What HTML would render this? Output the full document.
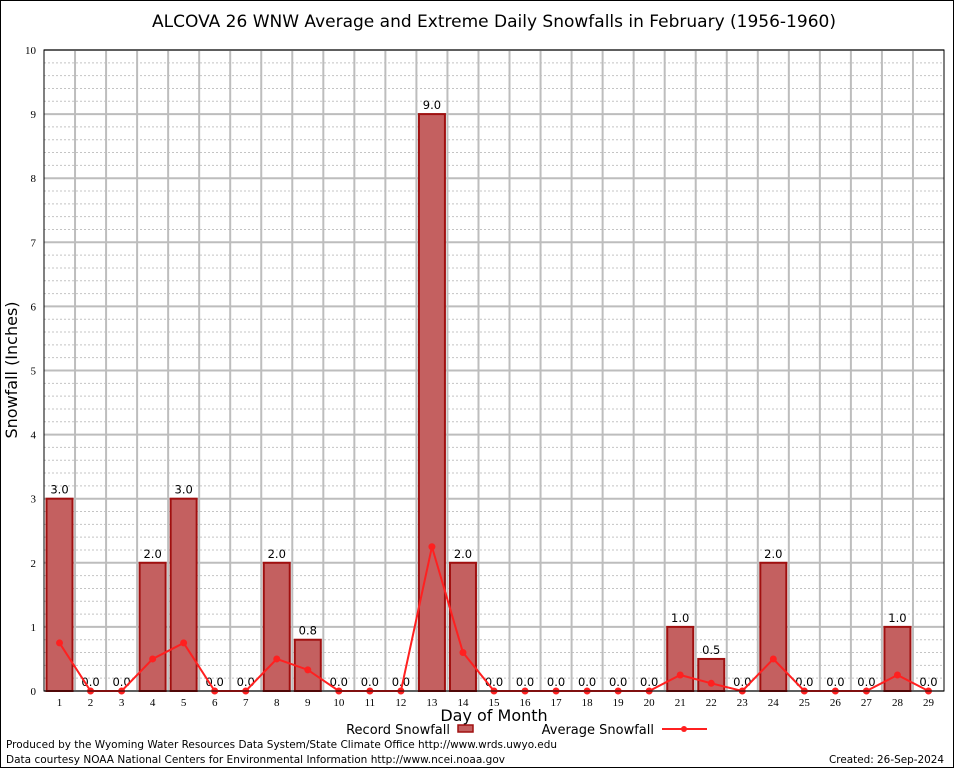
<!DOCTYPE html>
<html><head><meta charset="utf-8">
<style>
html,body{margin:0;padding:0;background:#fff;}
svg{display:block;font-family:"DejaVu Sans","Liberation Sans",sans-serif;}
</style></head>
<body>
<svg id="chart" width="954" height="768" viewBox="0 0 954 768" xmlns="http://www.w3.org/2000/svg">
<rect x="0.5" y="0.5" width="953" height="767" fill="#fff" stroke="#000"/>
<text x="494" y="27" font-size="17" text-anchor="middle">ALCOVA 26 WNW Average and Extreme Daily Snowfalls in February (1956-1960)</text>
<g id="grid"></g>
<g id="bars"></g>
<g id="line"></g>
<g id="axes"></g>
<text x="17" y="370" font-size="16" text-anchor="middle" transform="rotate(-90 17 370)">Snowfall (Inches)</text>
<text x="494" y="721" font-size="16" text-anchor="middle">Day of Month</text>
<g>
<text x="450" y="734" font-size="13" text-anchor="end">Record Snowfall</text>
<rect x="458" y="725" width="15" height="7" fill="#c46060" stroke="#a01010" stroke-width="1.5"/>
<text x="654" y="734" font-size="13" text-anchor="end">Average Snowfall</text>
<line x1="662" y1="729" x2="707" y2="729" stroke="#ff2020" stroke-width="2"/>
<circle cx="684" cy="729" r="3" fill="#ff2020"/>
</g>
<text x="6" y="748" font-size="11" textLength="551" lengthAdjust="spacingAndGlyphs">Produced by the Wyoming Water Resources Data System/State Climate Office http://www.wrds.uwyo.edu</text>
<text x="6" y="763" font-size="11" textLength="499" lengthAdjust="spacingAndGlyphs">Data courtesy NOAA National Centers for Environmental Information http://www.ncei.noaa.gov</text>
<text x="944" y="763" font-size="11" text-anchor="end" textLength="115" lengthAdjust="spacingAndGlyphs">Created: 26-Sep-2024</text>
</svg>
<script>
const days = [1,2,3,4,5,6,7,8,9,10,11,12,13,14,15,16,17,18,19,20,21,22,23,24,25,26,27,28,29];
const recordSnow = [3.0,0,0,2.0,3.0,0,0,2.0,0.8,0,0,0,9.0,2.0,0,0,0,0,0,0,1.0,0.5,0,2.0,0,0,0,1.0,0];
const avgSnow = [0.75,0,0,0.5,0.75,0,0,0.5,0.33,0,0,0,2.25,0.6,0,0,0,0,0,0,0.25,0.12,0,0.5,0,0,0,0.25,0];
const yTicks = [0,1,2,3,4,5,6,7,8,9,10];

const NS="http://www.w3.org/2000/svg";
const L=44,R=944,T=50,B=691,YMAX=10;
const slot=(R-L)/days.length;
const xc=d=>L+(d-0.5)*slot;
const y=v=>B-(v/YMAX)*(B-T);
function mk(tag,attrs,parent){const e=document.createElementNS(NS,tag);for(const k in attrs)e.setAttribute(k,attrs[k]);parent.appendChild(e);return e;}
const grid=document.getElementById('grid'),bars=document.getElementById('bars'),line=document.getElementById('line'),axes=document.getElementById('axes');
for(let v=0;v<YMAX;v+=0.2){if(Math.abs(v-Math.round(v))<1e-6)continue;
 const l=mk('line',{x1:L,x2:R,y1:y(v),y2:y(v),stroke:'#c4c4c4','stroke-width':1,'stroke-dasharray':'2,2'},grid);
 
 }
yTicks.forEach(v=>{const l=mk('line',{x1:L,x2:R,y1:y(v),y2:y(v),stroke:'#bdbdbd','stroke-width':2},grid);
 
 
 const t=mk('text',{x:L-8,y:y(v)+4,'font-size':11,'text-anchor':'end','font-family':'Liberation Serif, serif'},axes);t.textContent=v;
 
 });
for(let i=1;i<days.length;i++){const x=L+i*slot;const l=mk('line',{x1:x,x2:x,y1:T,y2:B,stroke:'#bdbdbd','stroke-width':2},grid);
 
 }
days.forEach((d,i)=>{const v=recordSnow[i];
 if(v>0){const b=mk('rect',{x:xc(d)-13,y:y(v),width:26,height:B-y(v),fill:'#c46060',stroke:'#a01010','stroke-width':2},bars);
  
  }
 const t=mk('text',{x:xc(d),y:y(v)-5,'font-size':11.5,'text-anchor':'middle'},bars);t.textContent=v.toFixed(1);
 
 
 const xl=mk('text',{x:xc(d),y:B+15,'font-size':11,'text-anchor':'middle','font-family':'Liberation Serif, serif'},axes);xl.textContent=d;
 
 });
const p=mk('polyline',{points:days.map((d,i)=>xc(d)+','+y(avgSnow[i])).join(' '),fill:'none',stroke:'#ff2020','stroke-width':2},line);


days.forEach((d,i)=>{const c=mk('circle',{cx:xc(d),cy:y(avgSnow[i]),r:3.5,fill:'#ff2020'},line);
 
 });
const frame=mk('rect',{x:L,y:T,width:R-L,height:B-T,fill:'none',stroke:'#000','stroke-width':1},axes);


</script>
</body></html>
